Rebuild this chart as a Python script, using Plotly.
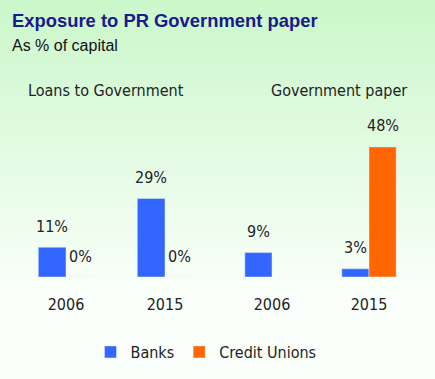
import plotly.graph_objects as go

# ---- data ----
sections = ["Loans to Government", "Government paper"]
years = ["2006", "2015"]
banks_loans = [11, 29]
cu_loans = [0, 0]
banks_paper = [9, 3]
cu_paper = [None, 48]

series_names = ["Banks", "Credit Unions"]

# ---- style ----
BLUE = "#3366ff"
ORANGE = "#ff6600"
NARROW = "DejaVu Sans Condensed, sans-serif"
TXT = "#222222"
FS = 16
W, H = 435, 379
MT, MB = 100, 102
PH = H - MT - MB
BASE = H - MB


def py(pix):
    """pixel row -> paper y"""
    return (BASE - pix) / PH


fig = go.Figure()

panels = [("x", banks_loans, cu_loans), ("x2", banks_paper, cu_paper)]
for i, (xa, b, c) in enumerate(panels):
    fig.add_trace(go.Bar(x=years, y=b, name=series_names[0], marker_color=BLUE,
                         xaxis=xa, yaxis="y", showlegend=(i == 0), legendgroup="b",
                         hoverinfo="skip"))
    fig.add_trace(go.Bar(x=years, y=c, name=series_names[1], marker_color=ORANGE,
                         xaxis=xa, yaxis="y", showlegend=(i == 0), legendgroup="c",
                         hoverinfo="skip"))
    for j, (vb, vc) in enumerate(zip(b, c)):
        for v, sh in ((vb, -14), (vc, 14)):
            if v is None:
                continue
            fig.add_annotation(x=j, y=v, xref=xa, yref="y", text=f"{v}%",
                               showarrow=False, xshift=sh, yshift=21,
                               yanchor="middle",
                               font=dict(family=NARROW, size=FS, color=TXT))

for sec, xc in zip(sections, [105.5 / W, 339 / W]):
    fig.add_annotation(x=xc, y=py(90), xref="paper", yref="paper",
                       text=sec, showarrow=False, xanchor="center", yanchor="middle",
                       font=dict(family=NARROW, size=FS, color=TXT))

fig.add_annotation(x=12 / W, y=py(46), xref="paper", yref="paper",
                   text="As % of capital", showarrow=False, xanchor="left",
                   yanchor="middle", xshift=-2,
                   font=dict(family="Liberation Sans", size=16, color="#111111"))

# background gradient (decorative)
top = (202, 247, 202)
bot = (251, 255, 251)
n = 60
stop = 300
shapes = []
for k in range(n):
    y0 = stop * k / n
    y1 = stop * (k + 1) / n
    t = (k + 0.5) / n
    col = tuple(round(top[m] + (bot[m] - top[m]) * t) for m in range(3))
    shapes.append(dict(type="rect", xref="paper", yref="paper",
                       x0=-0.1, x1=1.1,
                       y0=py(y1) - 0.001, y1=py(y0) + 0.001,
                       fillcolor=f"rgb{col}", line_width=0, layer="below"))
shapes.append(dict(type="rect", xref="paper", yref="paper", x0=-0.1, x1=1.1,
                   y0=py(H), y1=py(stop),
                   fillcolor=f"rgb{bot}", line_width=0, layer="below"))

axis_common = dict(type="category", anchor="y", showgrid=False, zeroline=False,
                   showline=False, ticks="", ticklabelstandoff=16,
                   range=[-0.5, 1.5], autorange=False,
                   tickfont=dict(family=NARROW, size=FS, color=TXT))

fig.update_layout(
    width=W, height=H,
    margin=dict(l=0, r=0, t=MT, b=MB, autoexpand=False),
    paper_bgcolor="white", plot_bgcolor="rgba(0,0,0,0)",
    barmode="group", bargap=0.44, bargroupgap=0,
    shapes=shapes,
    title=dict(text="<b>Exposure to PR Government paper</b>", x=12 / W, xanchor="left",
               xref="container", y=1 - 21 / H, yanchor="middle", yref="container",
               font=dict(family="Liberation Sans", size=18.4, color="#1a1a8c")),
    xaxis=dict(domain=[16.5 / W, 214.5 / W], **axis_common),
    xaxis2=dict(domain=[223.5 / W, 417.5 / W], **axis_common),
    yaxis=dict(range=[0, 65.3], visible=False, showgrid=False, zeroline=False),
    legend=dict(orientation="h", x=206 / W, xanchor="center", y=1 - 352 / H,
                yref="container", yanchor="middle", bgcolor="rgba(0,0,0,0)",
                font=dict(family=NARROW, size=FS, color=TXT), itemwidth=30,
                tracegroupgap=0),
    hovermode=False,
)

fig.write_html("out.html", config={"displayModeBar": False},
               post_script="document.body.style.margin='0';")
